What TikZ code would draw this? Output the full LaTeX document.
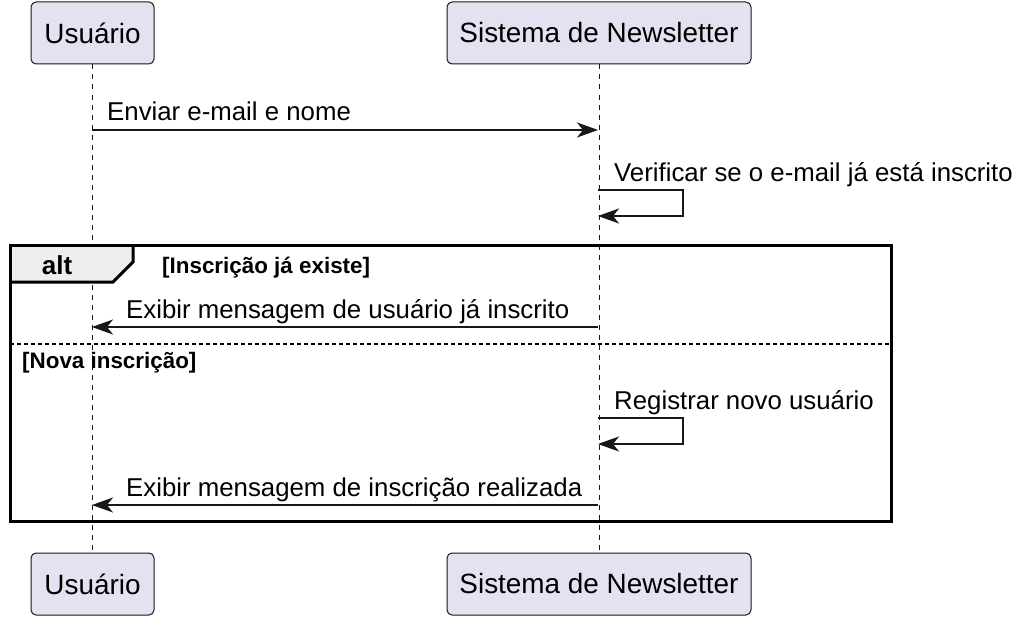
\documentclass[tikz,border=0pt]{standalone}
\usepackage{fontspec}
\setmainfont{Liberation Sans}
\usetikzlibrary{arrows.meta}
\definecolor{partfill}{HTML}{E2E2F0}
\definecolor{linecol}{HTML}{181818}
\definecolor{tabfill}{HTML}{EEEEEE}
\tikzset{
  participant/.style={draw=linecol, fill=partfill, rounded corners=5pt, line width=1pt,
    minimum height=62pt, inner xsep=0pt, font=\fontsize{27.9}{32}\selectfont, text=black},
  lifeline/.style={draw=linecol, line width=0.9pt, dash pattern=on 5pt off 5pt},
  msg/.style={draw=linecol, line width=2pt, -{Stealth[length=21pt,width=15pt,inset=6pt]}},
  msglabel/.style={anchor=base west, inner sep=0pt, font=\fontsize{25.8}{30}\selectfont, text=black},
  guard/.style={anchor=base west, inner sep=0pt, font=\bfseries\fontsize{22.4}{26}\selectfont, text=black},
  frame/.style={draw=black, line width=3pt},
}
\begin{document}
\begin{tikzpicture}[x=1pt,y=-1pt]
\useasboundingbox (0,0) rectangle (1023,626);
% participants
\node[participant, minimum width=123pt] (u1) at (92.5,33) {Usuário};
\node[participant, minimum width=304pt] (s1) at (599,33) {Sistema de Newsletter};
\node[participant, minimum width=123pt] (u2) at (92.5,584) {Usuário};
\node[participant, minimum width=304pt] (s2) at (599,584) {Sistema de Newsletter};
% lifelines
\draw[lifeline] (u1.south) -- (u2.north);
\draw[lifeline] (s1.south) -- (s2.north);
% alt frame
\coordinate (fTL) at (10,245);
\coordinate (fBR) at (891,521);
\fill[tabfill] (10,245) -- (133,245) -- (133,262) -- (113,282) -- (10,282) -- cycle;
\draw[frame] (fTL) rectangle (fBR);
\draw[frame, line join=miter] (10,282) -- (113,282) -- (133,262) -- (133,245);
\node[anchor=base, inner sep=0pt, font=\bfseries\fontsize{26}{30}\selectfont] (altlbl) at (57,274) {alt};
\node[guard] (g1) at (162,273) {[Inscrição já existe]};
\coordinate (sepL) at (10,344);
\coordinate (sepR) at (891,344);
\draw[draw=black, line width=1.5pt, dash pattern=on 4pt off 3pt] (sepL) -- (sepR);
\node[guard] (g2) at (22,368) {[Nova inscrição]};
% message 1
\coordinate (u_m1) at (92,130);
\coordinate (s_m1) at (598,130);
\draw[msg] (u_m1) -- (s_m1);
\node[msglabel] (l1) at (107,120) {Enviar e-mail e nome};
% self 1
\coordinate (s_a1) at (598,190);
\coordinate (s_b1) at (598,216);
\draw[msg] (s_a1) -- (683,190) -- (683,216) -- (s_b1);
\node[msglabel] (l2) at (614,181) {Verificar se o e-mail já está inscrito};
% message 2
\coordinate (s_m2) at (598,327);
\coordinate (u_m2) at (92,327);
\draw[msg] (s_m2) -- (u_m2);
\node[msglabel] (l3) at (126,318) {Exibir mensagem de usuário já inscrito};
% self 2
\coordinate (s_a2) at (598,418);
\coordinate (s_b2) at (598,444);
\draw[msg] (s_a2) -- (683,418) -- (683,444) -- (s_b2);
\node[msglabel] (l4) at (614,409) {Registrar novo usuário};
% message 3
\coordinate (s_m3) at (598,505);
\coordinate (u_m3) at (92,505);
\draw[msg] (s_m3) -- (u_m3);
\node[msglabel] (l5) at (126,496) {Exibir mensagem de inscrição realizada};
\end{tikzpicture}
\end{document}
